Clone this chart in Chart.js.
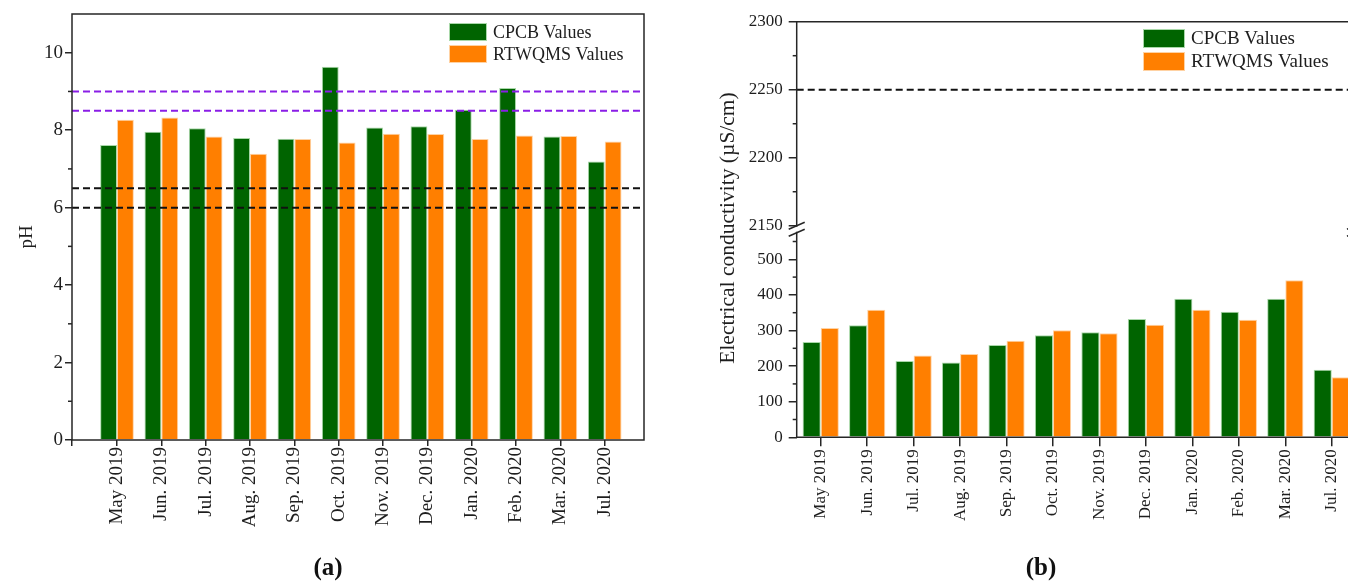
<!DOCTYPE html>
<html>
<head>
<meta charset="utf-8">
<script src="https://cdn.jsdelivr.net/npm/chart.js@4.4.1/dist/chart.umd.min.js"></script>
<style>
  html, body { margin: 0; padding: 0; background: #fff; width: 1348px; height: 581px; overflow: hidden; position: relative; }
  #wrapA { position: absolute; left: 0; top: 0; }
  #wrapB { position: absolute; left: 690px; top: 0; }
  .tag { position: absolute; font-family: 'Liberation Serif', 'Times New Roman', serif; font-weight: bold;
         font-size: 25px; color: #111; transform: translate(-50%, -50%); white-space: nowrap; }
</style>
</head>
<body>
<div id="wrapA"><canvas id="phChart" width="690" height="581"></canvas></div>
<div id="wrapB"><canvas id="ecChart" width="680" height="581"></canvas></div>
<div class="tag" style="left:328px; top:567px;">(a)</div>
<div class="tag" style="left:1041px; top:567px;">(b)</div>
<script>
// ---- data -------------------------------------------------------------
const months = ['May 2019', 'Jun. 2019', 'Jul. 2019', 'Aug. 2019', 'Sep. 2019', 'Oct. 2019',
                'Nov. 2019', 'Dec. 2019', 'Jan. 2020', 'Feb. 2020', 'Mar. 2020', 'Jul. 2020'];
const seriesNames = ['CPCB Values', 'RTWQMS Values'];

const phCPCB    = [7.62, 7.96, 8.05, 7.80, 7.78, 9.64, 8.07, 8.10, 8.53, 9.09, 7.84, 7.19];
const phRTWQMS  = [8.27, 8.33, 7.84, 7.39, 7.77, 7.68, 7.91, 7.90, 7.77, 7.86, 7.85, 7.71];
const phLimitsViolet = [9.0, 8.5];
const phLimitsBlack  = [6.5, 6.0];
const phTicks      = [0, 2, 4, 6, 8, 10];
const phMinorTicks = [1, 3, 5, 7, 9];

const ecCPCB   = [268, 315, 214, 210, 259, 287, 295, 332, 389, 353, 389, 190];
const ecRTWQMS = [307, 358, 230, 234, 271, 301, 292, 316, 358, 330, 441, 169];
const ecLimit  = [2250];
const ecTicksUpper = [2150, 2200, 2250, 2300];
const ecMinorUpper = [2175, 2225, 2275];
const ecTicksLower = [0, 100, 200, 300, 400, 500];
const ecMinorLower = [50, 150, 250, 350, 450, 550];

// ---- styles -----------------------------------------------------------
const SERIF = "'Liberation Serif', 'Times New Roman', serif";
const GREEN = '#006400', GREEN_EDGE = '#a9d8a9';
const ORANGE = '#ff7f00', ORANGE_EDGE = '#ffd2a3';
const VIOLET = '#8a1ee6';
const AXIS = '#262626';
const TEXT = '#1e1e1e';

const pts = arr => arr.map((v, i) => ({ x: i, y: v }));
const setTicks = list => scale => { scale.ticks = list.map(v => ({ value: v })); };
const monthLabel = v => (Number.isInteger(v) && months[v] !== undefined) ? months[v] : '';
const plainNumber = v => String(v);

function seg(ctx, x1, y1, x2, y2) {
  ctx.beginPath(); ctx.moveTo(x1, y1); ctx.lineTo(x2, y2); ctx.stroke();
}

function drawLegend(ctx, x, y, boxW, boxH, gap, fontSize) {
  const colors = [[GREEN, GREEN_EDGE], [ORANGE, ORANGE_EDGE]];
  ctx.save();
  ctx.font = fontSize + 'px ' + SERIF;
  ctx.textBaseline = 'middle';
  seriesNames.forEach((name, i) => {
    const top = y + i * (boxH + gap);
    ctx.fillStyle = colors[i][0];
    ctx.fillRect(x, top, boxW, boxH);
    ctx.strokeStyle = colors[i][1];
    ctx.lineWidth = 1;
    ctx.strokeRect(x + 0.5, top + 0.5, boxW - 1, boxH - 1);
    ctx.fillStyle = TEXT;
    ctx.fillText(name, x + boxW + 6, top + boxH / 2 + 1);
  });
  ctx.restore();
}

function drawRotatedTitle(ctx, text, cx, cy, fontSize) {
  ctx.save();
  ctx.translate(cx, cy);
  ctx.rotate(-Math.PI / 2);
  ctx.font = fontSize + 'px ' + SERIF;
  ctx.fillStyle = TEXT;
  ctx.textAlign = 'center';
  ctx.textBaseline = 'middle';
  ctx.fillText(text, 0, 0);
  ctx.restore();
}

// ---- (a) pH -------------------------------------------------------------
const phDecor = {
  id: 'phDecor',
  afterDatasetsDraw(chart) {
    const { ctx, chartArea: a, scales: { y } } = chart;
    ctx.save();
    ctx.lineWidth = 2;
    ctx.setLineDash([7, 4]);
    ctx.strokeStyle = VIOLET;
    phLimitsViolet.forEach(v => { const py = y.getPixelForValue(v); seg(ctx, a.left, py, a.right, py); });
    ctx.strokeStyle = '#111';
    phLimitsBlack.forEach(v => { const py = y.getPixelForValue(v); seg(ctx, a.left, py, a.right, py); });
    ctx.restore();
  },
  afterDraw(chart) {
    const { ctx, chartArea: a, scales: { y } } = chart;
    ctx.save();
    ctx.strokeStyle = AXIS;
    ctx.lineWidth = 1.5;
    ctx.strokeRect(a.left, a.top, a.right - a.left, a.bottom - a.top);
    phMinorTicks.forEach(v => { const py = y.getPixelForValue(v); seg(ctx, a.left - 4, py, a.left, py); });
    ctx.restore();
    drawLegend(ctx, 449, 23, 38, 18, 4, 18);
    drawRotatedTitle(ctx, 'pH', 27, 237, 19);
  }
};

new Chart(document.getElementById('phChart'), {
  type: 'bar',
  data: {
    datasets: [
      { label: seriesNames[0], data: pts(phCPCB), backgroundColor: GREEN, borderColor: GREEN_EDGE, borderWidth: 1 },
      { label: seriesNames[1], data: pts(phRTWQMS), backgroundColor: ORANGE, borderColor: ORANGE_EDGE, borderWidth: 1 }
    ]
  },
  options: {
    responsive: false,
    animation: false,
    layout: { padding: { top: 14, right: 46, left: 0, bottom: 0 } },
    datasets: { bar: { categoryPercentage: 0.76, barPercentage: 1 } },
    plugins: { legend: { display: false }, tooltip: { enabled: false } },
    scales: {
      x: {
        type: 'linear', min: -1.015, max: 11.886, offset: false,
        afterBuildTicks: setTicks([-1.015].concat(months.map((_, i) => i))),
        afterFit: s => { s.height = 141; },
        border: { display: false },
        grid: { offset: false, drawOnChartArea: false, drawTicks: true, tickLength: 6, color: AXIS, lineWidth: 1.5 },
        ticks: { autoSkip: false, minRotation: 90, maxRotation: 90, padding: 1, color: TEXT,
                 font: { family: SERIF, size: 19 }, callback: monthLabel }
      },
      y: {
        min: 0, max: 11,
        afterBuildTicks: setTicks(phTicks),
        afterFit: s => { s.width = 72; },
        border: { display: false },
        grid: { drawOnChartArea: false, drawTicks: true, tickLength: 7, color: AXIS, lineWidth: 1.5 },
        ticks: { padding: 2, color: TEXT, font: { family: SERIF, size: 19 }, callback: plainNumber }
      }
    }
  },
  plugins: [phDecor]
});

// ---- (b) Electrical conductivity, broken axis -----------------------------
function breakMarks(ctx, x, yA, yB) {
  // erase the axis between the two slashes, then draw the slashes
  ctx.save();
  ctx.fillStyle = '#fff';
  ctx.fillRect(x - 2, yA + 1, 4, yB - yA - 2);
  ctx.strokeStyle = AXIS;
  ctx.lineWidth = 1.5;
  seg(ctx, x - 8, yA + 3.5, x + 8, yA - 3.5);
  seg(ctx, x - 8, yB + 3.5, x + 8, yB - 3.5);
  ctx.restore();
}

const ecDecor = {
  id: 'ecDecor',
  afterDatasetsDraw(chart) {
    const { ctx, chartArea: a, scales: { yTop } } = chart;
    ctx.save();
    ctx.lineWidth = 2;
    ctx.setLineDash([7, 4]);
    ctx.strokeStyle = '#111';
    ecLimit.forEach(v => { const py = yTop.getPixelForValue(v); seg(ctx, a.left, py, a.right, py); });
    ctx.restore();
  },
  afterDraw(chart) {
    const { ctx, chartArea: a, scales: { yTop, yLow } } = chart;
    const yA = yTop.getPixelForValue(2150);
    const yB = yA + 7;
    ctx.save();
    ctx.strokeStyle = AXIS;
    ctx.lineWidth = 1.5;
    seg(ctx, a.left, a.top, a.right, a.top);
    seg(ctx, a.left, a.bottom, a.right, a.bottom);
    [a.left, a.right].forEach(x => seg(ctx, x, a.top, x, a.bottom));
    ecMinorUpper.forEach(v => { const py = yTop.getPixelForValue(v); seg(ctx, a.left - 4, py, a.left, py); });
    ecMinorLower.forEach(v => { const py = yLow.getPixelForValue(v); seg(ctx, a.left - 4, py, a.left, py); });
    ctx.restore();
    breakMarks(ctx, a.left, yA, yB);
    breakMarks(ctx, a.right, yA, yB);
    drawLegend(ctx, 453, 29, 42, 19, 4, 19);
    drawRotatedTitle(ctx, 'Electrical conductivity (\u00b5S/cm)', 38, 228, 21.5);
  }
};

new Chart(document.getElementById('ecChart'), {
  type: 'bar',
  data: {
    datasets: [
      { label: seriesNames[0], data: pts(ecCPCB), yAxisID: 'yLow', backgroundColor: GREEN, borderColor: GREEN_EDGE, borderWidth: 1 },
      { label: seriesNames[1], data: pts(ecRTWQMS), yAxisID: 'yLow', backgroundColor: ORANGE, borderColor: ORANGE_EDGE, borderWidth: 1 }
    ]
  },
  options: {
    responsive: false,
    animation: false,
    layout: { padding: { top: 21.7, right: 15, left: 0, bottom: 0 } },
    datasets: { bar: { categoryPercentage: 0.78, barPercentage: 1 } },
    plugins: { legend: { display: false }, tooltip: { enabled: false } },
    scales: {
      x: {
        type: 'linear', min: -0.517, max: 11.5, offset: false,
        afterBuildTicks: setTicks(months.map((_, i) => i)),
        afterFit: s => { s.height = 143.7; },
        border: { display: false },
        grid: { offset: false, drawOnChartArea: false, drawTicks: true, tickLength: 9, color: AXIS, lineWidth: 1.5 },
        ticks: { autoSkip: false, minRotation: 90, maxRotation: 90, padding: 3, color: TEXT,
                 font: { family: SERIF, size: 17 }, callback: monthLabel }
      },
      yTop: {
        type: 'linear', position: 'left', stack: 'ec', stackWeight: 210.3, weight: 1,
        min: 2145.4, max: 2300,
        afterBuildTicks: setTicks(ecTicksUpper),
        afterFit: s => { s.width = 106.7; },
        border: { display: false },
        grid: { drawOnChartArea: false, drawTicks: true, tickLength: 8, color: AXIS, lineWidth: 1.5 },
        ticks: { padding: 6, color: TEXT, font: { family: SERIF, size: 17 }, callback: plainNumber }
      },
      yLow: {
        type: 'linear', position: 'left', stack: 'ec', stackWeight: 205.3, weight: 0,
        min: 0, max: 576.7,
        afterBuildTicks: setTicks(ecTicksLower),
        afterFit: s => { s.width = 106.7; },
        border: { display: false },
        grid: { drawOnChartArea: false, drawTicks: true, tickLength: 8, color: AXIS, lineWidth: 1.5 },
        ticks: { padding: 6, color: TEXT, font: { family: SERIF, size: 17 }, callback: plainNumber }
      }
    }
  },
  plugins: [ecDecor]
});
</script>
</body>
</html>
